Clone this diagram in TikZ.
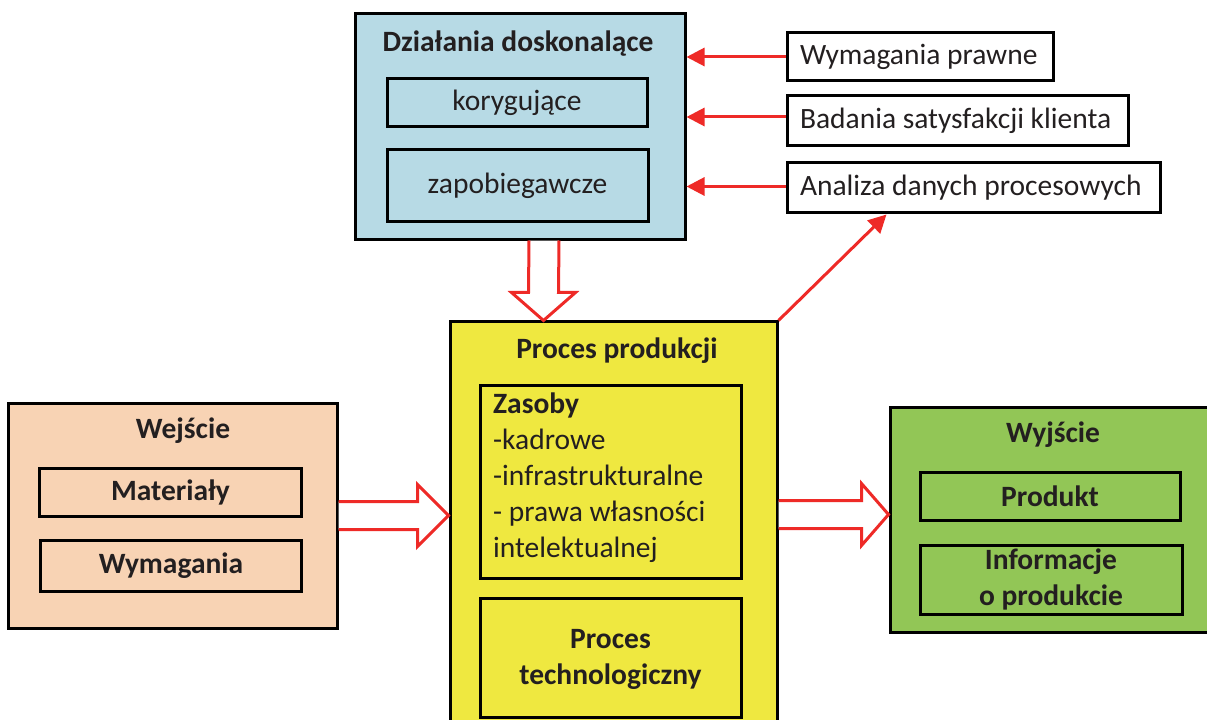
\documentclass[tikz,border=0pt]{standalone}
\usepackage{fontspec}
\setmainfont{Carlito}
\usetikzlibrary{arrows.meta,calc}
\definecolor{bluefill}{HTML}{B7DAE5}
\definecolor{peach}{HTML}{F8D3B4}
\definecolor{yel}{HTML}{EFE840}
\definecolor{grn}{HTML}{92C656}
\definecolor{redarrow}{HTML}{EE2A27}
\definecolor{txt}{HTML}{231F20}
\begin{document}
\begin{tikzpicture}[x=1bp,y=-1bp,
  every node/.style={font=\fontsize{29.5bp}{36bp}\selectfont, text=txt},
  outer/.style={draw=black, line width=3bp, inner sep=0pt},
  inner/.style={draw=black, line width=3bp, inner sep=0pt, align=center},
  sidebox/.style={draw=black, line width=3bp, inner xsep=13bp, inner ysep=0pt},
  title/.style={font=\fontsize{29.5bp}{36bp}\selectfont\bfseries},
  redline/.style={draw=redarrow, line width=3bp, -{Triangle[length=18bp,width=18bp]}},
  hollow/.style={draw=redarrow, line width=3bp, fill=white, line join=miter}
]
\useasboundingbox (0,0) rectangle (1207,720);
\begin{scope}
\clip (0,0) rectangle (1207,720);
% Top box
\node[outer, fill=bluefill, minimum width=330bp, minimum height=225bp] (dz) at (520,126.5) {};
\node[title] (dzt) at (518,44) {Działania doskonalące};
\node[inner, minimum width=260bp, minimum height=48bp] (kor) at (517,103) {korygujące};
\node[inner, minimum width=261bp, minimum height=71bp] (zap) at (517.5,185.5) {zapobiegawcze};
% Right boxes
\node[sidebox, minimum height=48bp] (wp) at (920,57) {\makebox[240bp][l]{Wymagania prawne}};
\node[sidebox, minimum height=50bp] (bs) at (957.5,121) {\makebox[315bp][l]{Badania satysfakcji klienta}};
\node[sidebox, minimum height=49bp] (an) at (973.5,187.5) {\makebox[347bp][l]{Analiza danych procesowych}};
% Production box
\node[outer, fill=yel, minimum width=327bp, minimum height=418bp] (prod) at (613.5,531) {};
\node[title] (prodt) at (617,351) {Proces produkcji};
\node[inner, minimum width=261bp, minimum height=193bp] (zas) at (610.5,481.5) {};
\node[anchor=north west, align=left, inner sep=0pt] (zast) at (493,393)
  {\textbf{Zasoby}\\-kadrowe\\-infrastrukturalne\\- prawa własności\\intelektualnej};
\node[inner, minimum width=261bp, minimum height=119bp] (tech) at (610.5,657.5) {};
\node[title, align=center] (techt) at (610.5,659) {Proces\\technologiczny};
% Input box
\node[outer, fill=peach, minimum width=328bp, minimum height=225bp] (wej) at (173,515.5) {};
\node[title] (wejt) at (183,431) {Wejście};
\node[inner, minimum width=261bp, minimum height=48bp, title] (mat) at (170.5,492) {Materiały};
\node[inner, minimum width=260bp, minimum height=51bp, title] (wym) at (171,565.5) {Wymagania};
% Output box
\node[outer, fill=grn, minimum width=330bp, minimum height=225bp] (wyj) at (1055,519.5) {};
\node[title] (wyjt) at (1053,435) {Wyjście};
\node[inner, minimum width=260bp, minimum height=48bp, title] (pr) at (1050,496) {Produkt};
\node[inner, minimum width=262bp, minimum height=69bp, title] (inf) at (1051,579.5) {Informacje\\o produkcie};
\end{scope}
% Red arrows from right boxes
\draw[redline] (wp.west) -- (wp.west -| dz.east);
\draw[redline] ($(bs.west)+(0,-4)$) -- ($(bs.west -| dz.east)+(0,-4)$);
\draw[redline] ($(an.west)+(0,-1)$) -- ($(an.west -| dz.east)+(0,-1)$);
\coordinate (antip) at ($(an.south west)+(101,1)$);
\draw[redline] (prod.north east) -- (antip);
% Hollow arrow down
\coordinate (d1s) at ($(dz.south)+(24,0)$);
\coordinate (d1e) at ($(prod.north)+(-70,0)$);
\draw[hollow] ($(d1s)+(-15,0)$) -- ($(d1e)+(-15,-28)$) -- ($(d1e)+(-32,-28)$) -- (d1e) -- ($(d1e)+(32,-28)$) -- ($(d1e)+(15,-28)$) -- ($(d1s)+(15,0)$);
% Hollow arrow right 1
\coordinate (a1s) at (wej.east);
\coordinate (a1e) at (wej.east -| prod.west);
\draw[hollow] ($(a1s)+(0,-14)$) -- ($(a1e)+(-31,-14)$) -- ($(a1e)+(-31,-31)$) -- (a1e) -- ($(a1e)+(-31,31)$) -- ($(a1e)+(-31,14)$) -- ($(a1s)+(0,14)$);
% Hollow arrow right 2
\coordinate (a2e) at ($(wyj.west)+(0,-5)$);
\coordinate (a2s) at (a2e -| prod.east);
\draw[hollow] ($(a2s)+(0,-14)$) -- ($(a2e)+(-27,-14)$) -- ($(a2e)+(-27,-31)$) -- (a2e) -- ($(a2e)+(-27,31)$) -- ($(a2e)+(-27,14)$) -- ($(a2s)+(0,14)$);
\end{tikzpicture}
\end{document}
